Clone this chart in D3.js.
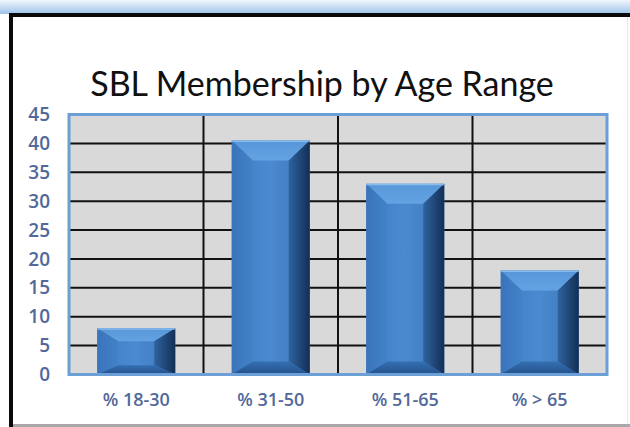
<!DOCTYPE html>
<html><head><meta charset="utf-8">
<script src="https://cdn.jsdelivr.net/npm/d3@7"></script>
<style>html,body{margin:0;padding:0;background:#fff;}svg{display:block;}</style>
</head><body>
<svg id="c" width="630" height="427"></svg>
<script>
const categories = ["% 18-30", "% 31-50", "% 51-65", "% > 65"];
const values = [8, 40.5, 33, 18];
const yTicks = [0, 5, 10, 15, 20, 25, 30, 35, 40, 45];
const title = "SBL Membership by Age Range";

const svg = d3.select("#c");
const defs = svg.append("defs");
const grad = (id, x2, y2, stops) => {
  const g = defs.append("linearGradient").attr("id", id).attr("x1",0).attr("y1",0).attr("x2",x2).attr("y2",y2);
  stops.forEach(([o,c]) => g.append("stop").attr("offset",o).attr("stop-color",c));
};
grad("topband",0,1,[["0%","#f2f7fd"],["100%","#9cc3ea"]]);
grad("center",1,0,[["0%","#3f7cc4"],["50%","#4b8ad0"],["100%","#3a74b8"]]);
grad("topbev",0,1,[["0%","#5796d8"],["100%","#64a3e2"]]);
grad("leftbev",1,0,[["0%","#3a74ba"],["100%","#4282c8"]]);
grad("rightbev",1,0,[["0%","#2f639f"],["100%","#132f55"]]);
grad("botbev",0,1,[["0%","#3470b2"],["100%","#24508a"]]);

svg.append("rect").attr("x",0).attr("y",0).attr("width",630).attr("height",427).attr("fill","#fff");
svg.append("rect").attr("x",0).attr("y",0).attr("width",630).attr("height",14).attr("fill","url(#topband)");
svg.append("rect").attr("x",9).attr("y",13).attr("width",621).attr("height",4).attr("fill","#0a0a0a");
svg.append("rect").attr("x",9).attr("y",13).attr("width",4).attr("height",414).attr("fill","#0a0a0a");
svg.append("rect").attr("x",13).attr("y",424).attr("width",617).attr("height",3).attr("fill","#a8a8a8");
svg.append("rect").attr("x",627).attr("y",17).attr("width",1).attr("height",407).attr("fill","#e8e8e8");

svg.append("text").attr("x",322).attr("y",96).attr("text-anchor","middle")
  .attr("font-family","Lato, 'Open Sans', sans-serif").attr("font-size",34).attr("fill","#111")
  .text(title);

const L = 69, R = 607, T = 114.5, B = 374.5;
const x = d3.scaleBand().domain(categories).range([L, R]).paddingInner(0.42).paddingOuter(0.21);
const xc = d3.scaleBand().domain(categories).range([L, R]).padding(0);
const y = d3.scaleLinear().domain([0, 45]).range([B, T]);

svg.append("rect").attr("x",L).attr("y",T).attr("width",R-L).attr("height",B-T).attr("fill","#d9d9d9");

svg.append("g").selectAll("line").data(yTicks.filter(d => d > 0 && d < 45)).join("line")
  .attr("x1",L).attr("x2",R).attr("y1",d=>y(d)).attr("y2",d=>y(d))
  .attr("stroke","#111").attr("stroke-width",2);
svg.append("g").selectAll("line").data(categories.slice(1)).join("line")
  .attr("x1",d=>xc(d)).attr("x2",d=>xc(d)).attr("y1",T).attr("y2",B)
  .attr("stroke","#111").attr("stroke-width",2);

const gBars = svg.append("g");
const pts = a => a.map(p => p.join(",")).join(" ");
values.forEach((v, i) => {
  const x0 = x(categories[i]), w = x.bandwidth();
  const y0 = y(v), y1 = y(0), h = y1 - y0;
  const bx = Math.min(21, w * 0.27), bt = Math.min(20, h * 0.28), bb = Math.min(13, h * 0.2);
  const g = gBars.append("g");
  g.append("rect").attr("x",x0).attr("y",y0).attr("width",w).attr("height",h).attr("fill","url(#center)");
  g.append("polygon").attr("points", pts([[x0,y0],[x0+w,y0],[x0+w-bx,y0+bt],[x0+bx,y0+bt]])).attr("fill","url(#topbev)");
  g.append("polygon").attr("points", pts([[x0,y0],[x0+bx,y0+bt],[x0+bx,y1-bb],[x0,y1]])).attr("fill","url(#leftbev)");
  g.append("polygon").attr("points", pts([[x0+w,y0],[x0+w-bx,y0+bt],[x0+w-bx,y1-bb],[x0+w,y1]])).attr("fill","url(#rightbev)");
  g.append("polygon").attr("points", pts([[x0,y1],[x0+bx,y1-bb],[x0+w-bx,y1-bb],[x0+w,y1]])).attr("fill","url(#botbev)");
  g.append("rect").attr("x",x0).attr("y",y0).attr("width",w).attr("height",1.5).attr("fill","#9ccaf2").attr("opacity",0.7);
});

svg.append("rect").attr("x",L).attr("y",T).attr("width",R-L).attr("height",B-T)
  .attr("fill","none").attr("stroke","#6b9fd6").attr("stroke-width",3);

const labelFont = "'Open Sans', Lato, sans-serif";
const yAxis = d3.axisLeft(y).tickValues(yTicks).tickSize(0).tickPadding(0);
const ya = svg.append("g").attr("transform",`translate(50,0)`).call(yAxis);
ya.select(".domain").remove();
ya.selectAll("text").attr("font-family",labelFont).attr("font-size",19).attr("fill","#52699a").attr("font-weight","600");

const xAxis = d3.axisBottom(xc).tickSize(0).tickPadding(0);
const xa = svg.append("g").attr("transform",`translate(0,393)`).call(xAxis);
xa.select(".domain").remove();
xa.selectAll("text").attr("font-family",labelFont).attr("font-size",18).attr("fill","#52699a").attr("font-weight","600");
</script>
</body></html>
